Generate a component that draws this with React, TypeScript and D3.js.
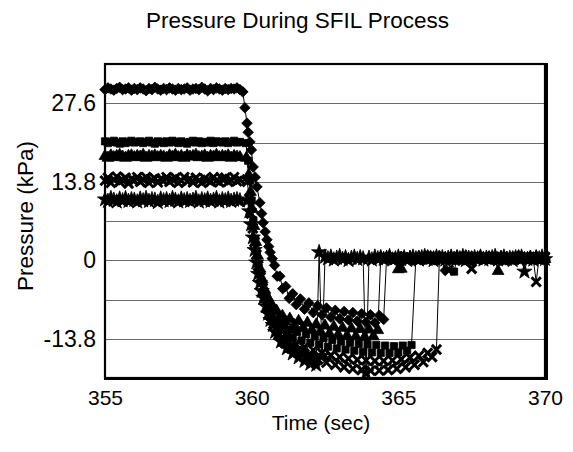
import React, { useEffect, useRef } from 'react';
import * as d3 from 'd3';

// ---- axes ----
const xDomain = [355, 370];
const yDomain = [-20.7, 34.5];
const xTicks = [355, 360, 365, 370];
const yTicks = [27.6, 13.8, 0, -13.8];
const gridValues = [27.6, 20.7, 13.8, 6.9, 0, -6.9, -13.8];

const titleText = 'Pressure During SFIL Process';
const xTitle = 'Time (sec)';
const yTitle = 'Pressure (kPa)';

// ---- plateau before release (0.1 s samples) ----
const plateauTimes = [355.0, 355.1, 355.2, 355.3, 355.4, 355.5, 355.6, 355.7, 355.8, 355.9,
  356.0, 356.1, 356.2, 356.3, 356.4, 356.5, 356.6, 356.7, 356.8, 356.9,
  357.0, 357.1, 357.2, 357.3, 357.4, 357.5, 357.6, 357.7, 357.8, 357.9,
  358.0, 358.1, 358.2, 358.3, 358.4, 358.5, 358.6, 358.7, 358.8, 358.9,
  359.0, 359.1, 359.2, 359.3, 359.4, 359.5, 359.6];
const plateauA = [30.0, 30.3, 30.1, 29.9, 30.2, 30.4, 30.0, 30.1, 30.3, 29.9,
  30.2, 30.0, 30.3, 30.1, 29.8, 30.2, 30.0, 30.4, 30.1, 29.9,
  30.2, 30.0, 30.3, 30.1, 29.9, 30.2, 30.0, 30.1, 30.3, 29.9,
  30.1, 30.2, 30.0, 30.4, 30.1, 29.8, 30.2, 30.0, 30.3, 30.1,
  29.9, 30.2, 30.0, 30.2, 30.1, 30.3, 30.0];
const plateauB = [20.9, 20.6, 20.8, 21.0, 20.7, 20.5, 20.9, 20.6, 20.8, 21.0,
  20.7, 20.8, 20.9, 20.6, 20.8, 21.0, 20.7, 20.5, 20.9, 20.8,
  20.6, 20.9, 20.7, 21.0, 20.8, 20.6, 20.9, 20.7, 20.5, 20.8,
  21.0, 20.7, 20.9, 20.6, 20.8, 20.7, 21.0, 20.6, 20.9, 20.8,
  20.7, 20.9, 20.6, 20.8, 21.0, 20.7, 20.8];
const plateauC = [18.3, 18.0, 18.4, 18.1, 18.3, 18.5, 18.2, 18.0, 18.3, 18.4,
  18.1, 18.3, 18.2, 18.5, 18.0, 18.3, 18.2, 18.4, 18.1, 18.3,
  18.2, 18.0, 18.4, 18.2, 18.5, 18.1, 18.3, 18.0, 18.4, 18.2,
  18.3, 18.5, 18.1, 18.2, 18.4, 18.0, 18.3, 18.2, 18.5, 18.1,
  18.3, 18.2, 18.4, 18.0, 18.3, 18.2, 18.1];
const plateauD = [14.0, 14.5, 13.6, 14.2, 14.7, 13.8, 14.1, 14.5, 13.5, 14.3,
  14.0, 14.6, 13.8, 14.2, 14.6, 13.6, 14.1, 14.4, 13.7, 14.3,
  14.0, 14.6, 13.8, 14.2, 14.5, 13.6, 14.0, 14.6, 13.9, 14.3,
  13.7, 14.5, 14.0, 13.6, 14.4, 14.1, 13.8, 14.6, 14.0, 13.7,
  14.3, 14.5, 13.8, 14.1, 14.6, 13.9, 14.2];
const plateauE = [10.7, 10.4, 10.9, 10.6, 10.3, 10.8, 10.5, 10.9, 10.4, 10.7,
  10.6, 10.3, 10.8, 10.5, 10.9, 10.4, 10.7, 10.6, 10.2, 10.8,
  10.5, 10.7, 10.4, 10.9, 10.6, 10.3, 10.8, 10.5, 10.7, 10.4,
  10.6, 10.9, 10.3, 10.7, 10.5, 10.8, 10.4, 10.6, 10.9, 10.3,
  10.7, 10.5, 10.8, 10.4, 10.6, 10.7, 10.5];

// ---- release and vacuum phase [time, kPa] ----
const dropA: [number, number][] = [
  [359.7, 29.6], [359.77, 26.8], [359.84, 24.1], [359.88, 22.5], [359.94, 20.8], [359.99, 19.4], [360.05, 16.4],
  [360.12, 14.6], [360.18, 12.9], [360.28, 10.1], [360.34, 8.2], [360.39, 6.6], [360.46, 5.0], [360.52, 3.6],
  [360.58, 2.4], [360.63, 1.4], [360.7, 0.3], [360.78, -0.9], [360.87, -2.8], [360.96, -2.8], [361.06, -5.0],
  [361.16, -4.6], [361.28, -6.7], [361.4, -5.9], [361.52, -7.8], [361.66, -6.8], [361.8, -8.6], [361.95, -7.5],
  [362.1, -9.2], [362.25, -8.0], [362.4, -9.6], [362.55, -8.4], [362.7, -10.0], [362.85, -8.8], [363.0, -10.3],
  [363.15, -9.0], [363.3, -10.5], [363.45, -9.2], [363.6, -10.7], [363.75, -9.4], [363.9, -10.9], [364.05, -9.6],
  [364.2, -11.0], [364.35, -9.7], [364.5, -10.4],
];
const dropB: [number, number][] = [
  [359.8, 20.6], [359.88, 17.5], [359.94, 14.0], [360.0, 10.5], [360.06, 7.0], [360.12, 3.8], [360.18, 1.0],
  [360.24, -1.3], [360.32, -3.6], [360.4, -5.6], [360.5, -7.2], [360.6, -8.6], [360.7, -9.6], [360.8, -10.8],
  [360.9, -10.9], [361.0, -12.1], [361.1, -11.7], [361.2, -13.0], [361.3, -12.2], [361.4, -13.6], [361.55, -12.6],
  [361.7, -14.1], [361.85, -13.0], [362.0, -14.5], [362.15, -13.4], [362.3, -14.8], [362.45, -13.7], [362.6, -15.2],
  [362.75, -14.0], [362.9, -15.5], [363.05, -14.3], [363.2, -15.7], [363.35, -14.5], [363.5, -15.9], [363.65, -14.7],
  [363.8, -16.1], [363.95, -14.8], [364.1, -16.2], [364.25, -14.9], [364.4, -16.3], [364.55, -15.0], [364.7, -16.3],
  [364.85, -15.1], [365.0, -16.2], [365.15, -15.0], [365.3, -15.9], [365.45, -14.9],
];
const dropC: [number, number][] = [
  [359.82, 18.0], [359.9, 15.0], [359.96, 12.0], [360.02, 9.0], [360.08, 6.0], [360.14, 3.2], [360.2, 0.8],
  [360.28, -1.5], [360.36, -3.4], [360.45, -5.2], [360.55, -6.6], [360.65, -7.5], [360.75, -8.7], [360.85, -8.9],
  [360.95, -10.0], [361.05, -9.8], [361.15, -10.8], [361.3, -10.3], [361.45, -11.4], [361.6, -10.7], [361.75, -11.9],
  [361.9, -11.0], [362.05, -12.3], [362.2, -11.3], [362.35, -12.6], [362.5, -11.5], [362.65, -12.9], [362.8, -11.7],
  [362.95, -13.1], [363.1, -11.9], [363.25, -13.3], [363.4, -12.0], [363.55, -13.4], [363.7, -12.1], [363.85, -13.5],
  [364.0, -12.2], [364.15, -13.4], [364.3, -12.3],
];
const dropD: [number, number][] = [
  [359.85, 13.8], [359.92, 10.8], [359.98, 8.2], [360.04, 5.6], [360.1, 3.2], [360.16, 1.0], [360.22, -1.0],
  [360.3, -3.0], [360.38, -4.9], [360.46, -6.6], [360.55, -8.4], [360.65, -9.7], [360.75, -11.2], [360.85, -12.0],
  [360.95, -13.1], [361.05, -13.6], [361.15, -14.6], [361.25, -14.2], [361.35, -15.5], [361.5, -14.7], [361.65, -16.2],
  [361.8, -15.3], [361.95, -16.9], [362.1, -15.8], [362.25, -17.4], [362.4, -16.3], [362.55, -18.0], [362.7, -16.7],
  [362.85, -18.4], [363.0, -17.0], [363.15, -18.8], [363.3, -17.3], [363.45, -19.1], [363.6, -17.5], [363.75, -19.3],
  [363.9, -17.6], [364.05, -19.4], [364.2, -17.7], [364.35, -19.4], [364.5, -17.7], [364.65, -19.3], [364.8, -17.6],
  [364.95, -19.1], [365.1, -17.4], [365.25, -18.8], [365.4, -17.1], [365.55, -18.4], [365.7, -16.8], [365.85, -17.9],
  [366.0, -16.3], [366.15, -17.0], [366.3, -15.7],
];
const dropE: [number, number][] = [
  [359.85, 10.5], [359.92, 8.6], [359.98, 6.3], [360.04, 4.0], [360.1, 1.8], [360.16, -0.4], [360.22, -2.4],
  [360.28, -4.0], [360.34, -5.4], [360.4, -6.6], [360.48, -8.1], [360.56, -9.4], [360.64, -10.5], [360.72, -11.4],
  [360.8, -12.6], [360.9, -12.8], [361.0, -14.3], [361.1, -14.0], [361.2, -15.5], [361.3, -15.0], [361.4, -16.4],
  [361.5, -15.6], [361.6, -17.1], [361.7, -16.2], [361.8, -17.7], [361.9, -16.7], [362.0, -18.2], [362.1, -17.2],
  [362.2, -18.4],
];

// ---- after separation (0.1 s samples; each tail ends at 370.0) ----
const tailTimes = [362.3, 362.4, 362.5, 362.6, 362.7, 362.8, 362.9, 363.0, 363.1, 363.2,
  363.3, 363.4, 363.5, 363.6, 363.7, 363.8, 363.9, 364.0, 364.1, 364.2,
  364.3, 364.4, 364.5, 364.6, 364.7, 364.8, 364.9, 365.0, 365.1, 365.2,
  365.3, 365.4, 365.5, 365.6, 365.7, 365.8, 365.9, 366.0, 366.1, 366.2,
  366.3, 366.4, 366.5, 366.6, 366.7, 366.8, 366.9, 367.0, 367.1, 367.2,
  367.3, 367.4, 367.5, 367.6, 367.7, 367.8, 367.9, 368.0, 368.1, 368.2,
  368.3, 368.4, 368.5, 368.6, 368.7, 368.8, 368.9, 369.0, 369.1, 369.2,
  369.3, 369.4, 369.5, 369.6, 369.7, 369.8, 369.9, 370.0];
const tailA = [0.6,
  0.3, 0.5, 0.1, 0.4, 0.7, 0.2, 0.5, 0.3, 0.0, 0.4,
  0.6, 0.2, 0.5, 0.3, 0.7, 0.1, 0.4, 0.6, 0.2, -1.8,
  0.3, 0.5, 0.1, 0.4, 0.6, 0.2, 0.5, 0.3, 0.0, 0.4,
  0.6, 0.3, 0.5, 0.1, 0.4, 0.7, 0.2, 0.5, 0.3, 0.6,
  0.1, 0.4, 0.2, 0.6, 0.3, 0.5, 0.0, 0.4, 0.7, 0.2,
  0.5, 0.3, 0.6, 0.2];
const tailB = [0.5,
  0.2, 0.4, 0.0, 0.6, 0.3, 0.5, 0.1, 0.4, 0.7, 0.2,
  0.5, 0.3, -2.0, 0.4, 0.6, 0.1, 0.3, 0.5, 0.2, 0.6,
  0.4, 0.1, 0.5, 0.3, 0.7, 0.2, 0.4, 0.0, 0.5, 0.3,
  0.6, 0.2, 0.4, 0.1, 0.5, 0.3, 0.6, 0.2, 0.4, 0.7,
  0.3, 0.5, 0.1, 0.4];
const tailC = [0.5,
  0.2, 0.4, 0.6, 0.1, 0.3, -1.6, -1.5, 0.4, 0.2, 0.5,
  0.3, 0.0, 0.6, 0.2, 0.4, 0.7, 0.1, 0.5, 0.3, 0.6,
  0.2, 0.4, 0.0, 0.5, 0.3, 0.6, 0.1, 0.4, 0.7, 0.2,
  0.5, 0.3, 0.1, 0.6, 0.4, 0.2, 0.5, 0.0, 0.3, -1.9,
  0.6, 0.2, 0.4, 0.1, 0.5, 0.3, 0.7, 0.2, 0.4, 0.0,
  0.5, 0.3, 0.6, 0.1, 0.4, 0.2];
const tailD = [0.4,
  0.1, 0.5, -1.7, 0.3, 0.6, 0.2, 0.4, 0.0, 0.5, 0.3,
  -1.5, 0.6, 0.2, 0.4, 0.1, 0.5, 0.3, 0.7, 0.2, 0.4,
  0.6, 0.0, 0.3, 0.5, 0.2, 0.4, 0.6, 0.1, 0.5, 0.3,
  0.4, 0.2, -3.8, 0.5, 0.3, 0.6];
const tailE = [1.4, -16.8, 0.6,
  0.3, 0.6, 0.1, 0.4, 0.7, 0.2, 0.5, 0.0, 0.4, 0.6,
  0.2, 0.5, 0.3, -19.8, 0.4, 0.1, 0.6, 0.3, 0.5, 0.2,
  0.4, 0.7, 0.1, 0.3, 0.6, 0.2, 0.5, 0.0, 0.4, 0.6,
  0.3, 0.1, 0.5, 0.7, 0.2, 0.4, 0.0, 0.6, 0.3, 0.5,
  0.1, 0.4, 0.6, 0.2, 0.5, 0.3, 0.7, 0.0, 0.4, 0.2,
  0.5, 0.3, 0.6, 0.1, 0.4, 0.2, 0.5, 0.7, 0.1, 0.3,
  0.6, 0.2, 0.4, 0.0, 0.5, 0.3, 0.6, -2.0, 0.2, 0.4,
  0.1, 0.5, 0.3, 0.6, 0.2];

const seriesNames = ['A', 'B', 'C', 'D', 'E'];
const plateaus = [plateauA, plateauB, plateauC, plateauD, plateauE];
const drops = [dropA, dropB, dropC, dropD, dropE];
const tails = [tailA, tailB, tailC, tailD, tailE];

const FONT = "'Liberation Sans', Arial, sans-serif";

const squareDiamond = {
  draw(ctx: any, size: number) {
    const r = Math.sqrt(size / 2);
    ctx.moveTo(0, -r);
    ctx.lineTo(r, 0);
    ctx.lineTo(0, r);
    ctx.lineTo(-r, 0);
    ctx.closePath();
  },
};

export default function App() {
  const ref = useRef<SVGSVGElement>(null);
  useEffect(() => {
    const svg = d3.select(ref.current);
    svg.selectAll('*').remove();
    const x = d3.scaleLinear().domain(xDomain).range([105, 545]);
    const y = d3.scaleLinear().domain(yDomain).range([378, 64]);

    // grid
    svg.append('g').selectAll('line').data(gridValues).join('line')
      .attr('x1', x(355)).attr('x2', x(370))
      .attr('y1', (d) => Math.round(y(d)) + 0.5).attr('y2', (d) => Math.round(y(d)) + 0.5)
      .attr('stroke', '#6a6a6a').attr('stroke-width', 1.2);

    const symbols: any[] = [squareDiamond, d3.symbolSquare, d3.symbolTriangle, d3.symbolTimes, d3.symbolStar];
    const sizes = [56, 52, 60, 58, 72];
    const line = d3.line<[number, number]>().x((d) => x(d[0])).y((d) => y(d[1]));

    seriesNames.forEach((name, i) => {
      const head: [number, number][] = plateauTimes.map((t, k) => [t, plateaus[i][k]] as [number, number]);
      const tv = tails[i];
      const offset = tailTimes.length - tv.length;
      const tail: [number, number][] = tv.map((v, k) => [tailTimes[offset + k], v] as [number, number]);
      const pts = head.concat(drops[i]).concat(tail).filter((d) => Number.isFinite(d[0]) && Number.isFinite(d[1]));
      const g = svg.append('g').attr('class', 'series-' + name);
      g.append('path').attr('d', line(pts)).attr('fill', 'none').attr('stroke', '#000').attr('stroke-width', 1);
      const sym = d3.symbol().type(symbols[i]).size(sizes[i]);
      const stroked = symbols[i] === d3.symbolTimes;
      g.selectAll('path.m').data(pts).join('path').attr('class', 'm')
        .attr('d', sym as any)
        .attr('transform', (d) => `translate(${x(d[0])},${y(d[1])})`)
        .attr('fill', stroked ? 'none' : '#000')
        .attr('stroke', '#000')
        .attr('stroke-width', stroked ? 3 : 0.8);
    });

    // frame
    svg.append('rect').attr('x', 105).attr('y', 64).attr('width', 440).attr('height', 314)
      .attr('fill', 'none').attr('stroke', '#000').attr('stroke-width', 2.2);
    svg.append('line').attr('x1', 546.5).attr('x2', 546.5).attr('y1', 63).attr('y2', 380)
      .attr('stroke', '#000').attr('stroke-width', 3);
    svg.append('line').attr('x1', 104).attr('x2', 548).attr('y1', 378.5).attr('y2', 378.5)
      .attr('stroke', '#000').attr('stroke-width', 3);

    // axis labels
    const yAxis = d3.axisLeft(y).tickValues(yTicks).tickSize(0).tickPadding(9)
      .tickFormat((d: any) => (d === 0 ? '0' : (+d).toFixed(1)));
    const ya = svg.append('g').attr('transform', 'translate(105,0)').call(yAxis as any);
    ya.select('.domain').remove();
    ya.selectAll('text').attr('font-family', FONT).attr('font-size', 23).attr('fill', '#000');

    const xAxis = d3.axisBottom(x).tickValues(xTicks).tickSize(0).tickPadding(12)
      .tickFormat((d: any) => String(d));
    const xa = svg.append('g').attr('transform', 'translate(0,378)').call(xAxis as any);
    xa.select('.domain').remove();
    xa.selectAll('text').attr('font-family', FONT).attr('font-size', 21).attr('fill', '#000');

    svg.append('text').attr('x', 297.5).attr('y', 28).attr('text-anchor', 'middle')
      .attr('font-family', FONT).attr('font-size', 22.5).text(titleText);
    svg.append('text').attr('x', 321).attr('y', 430).attr('text-anchor', 'middle')
      .attr('font-family', FONT).attr('font-size', 21).text(xTitle);
    svg.append('text').attr('transform', 'translate(33,216) rotate(-90)').attr('text-anchor', 'middle')
      .attr('font-family', FONT).attr('font-size', 22.5).text(yTitle);
  }, []);
  return (
    <svg ref={ref} width={573} height={452}
      style={{ position: 'absolute', left: 0, top: 0, background: '#fff' }} />
  );
}
